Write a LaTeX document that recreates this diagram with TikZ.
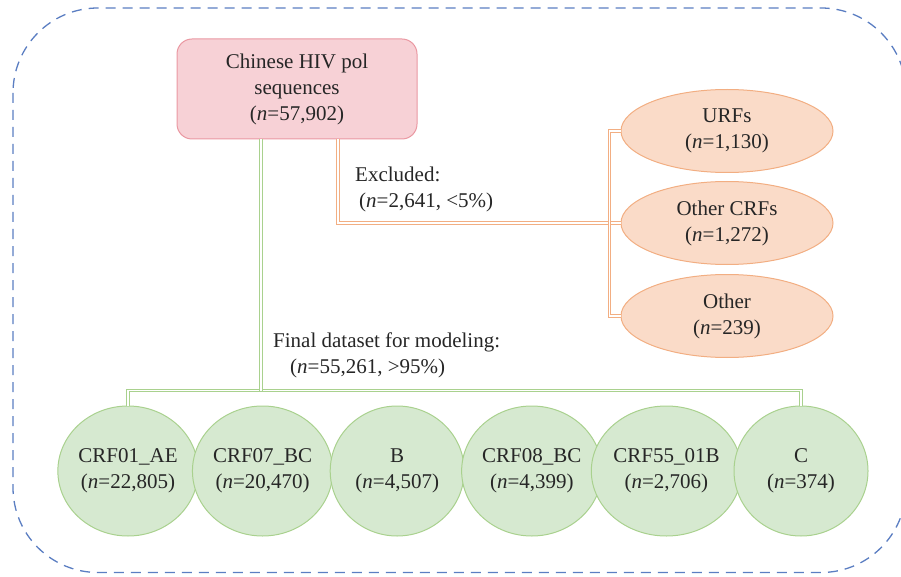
\documentclass[tikz,border=0pt]{standalone}
\usepackage{fontspec}
\setmainfont{Liberation Serif}
\usetikzlibrary{shapes.geometric}
\definecolor{pinkfill}{HTML}{F7D1D6}
\definecolor{pinkdraw}{HTML}{EA98A2}
\definecolor{orfill}{HTML}{FADBC8}
\definecolor{ordraw}{HTML}{F2AE82}
\definecolor{grfill}{HTML}{D6E9D0}
\definecolor{grdraw}{HTML}{A9D18E}
\definecolor{bord}{HTML}{5B7EC2}
\definecolor{txt}{HTML}{262626}
\begin{document}
\begin{tikzpicture}[x=1pt,y=-1pt,
 every node/.style={font=\fontsize{21}{26}\selectfont, text=txt, align=center},
 srcbox/.style={draw=pinkdraw, fill=pinkfill, line width=1pt, rounded corners=15pt, minimum width=240pt, minimum height=100pt, inner sep=0pt},
 exbox/.style={ellipse, draw=ordraw, fill=orfill, line width=1pt, minimum width=212pt, minimum height=83pt, inner sep=0pt},
 subbox/.style={ellipse, draw=grdraw, fill=grfill, line width=1pt, minimum width=134pt, minimum height=130pt, inner sep=0pt},
 obus/.style={draw=ordraw, double=white, line width=0.8pt, double distance=1.6pt},
 gbus/.style={draw=grdraw, double=white, line width=0.8pt, double distance=1.6pt},
 lbl/.style={anchor=west, align=left, inner sep=0pt},
 frame/.style={draw=bord, line width=1.3pt, dash pattern=on 10pt off 7pt, rounded corners=85pt}]
\useasboundingbox (0,0) rectangle (901,577);
\draw[frame] (13,8) rectangle (906,572.5);

\node[srcbox] (src) at (297,89) {Chinese HIV pol\\sequences\\(\textit{n}=57,902)};

\node[exbox] (urf) at (727,131) {URFs\\(\textit{n}=1,130)};
\node[exbox] (ocrf) at (727,223) {Other CRFs\\(\textit{n}=1,272)};
\node[exbox] (oth) at (727,316) {Other\\(\textit{n}=239)};

\node[subbox] (c1) at (128,471) {CRF01\_AE\\(\textit{n}=22,805)};
\node[subbox] (c2) at (262.6,471) {CRF07\_BC\\(\textit{n}=20,470)};
\node[subbox] (c3) at (397.2,471) {B\\(\textit{n}=4,507)};
\node[subbox] (c4) at (531.8,471) {CRF08\_BC\\(\textit{n}=4,399)};
\node[subbox] (c5) at (666.4,471) {CRF55\_01B\\(\textit{n}=2,706)};
\node[subbox] (c6) at (801,471) {C\\(\textit{n}=374)};

\coordinate (ex) at ([xshift=41pt]src.south);
\draw[obus] (ex) |- (ocrf.west);
\draw[obus] (urf.west) -- ++(-11,0) |- (oth.west);

\coordinate (gs) at ([xshift=-36pt]src.south);
\coordinate (busy) at ([yshift=15pt]c1.north);
\draw[gbus] (c1.north) -- (busy) -| (c6.north);
\draw[gbus] (gs) -- (gs |- busy);

\node[lbl] (exl) at (355,189.5) {Excluded:\\\hspace*{4pt}(\textit{n}=2,641, <5\%)};
\node[lbl] (fin) at (273,355.5) {Final dataset for modeling:\\\hspace*{17pt}(\textit{n}=55,261, >95\%)};
\end{tikzpicture}
\end{document}
